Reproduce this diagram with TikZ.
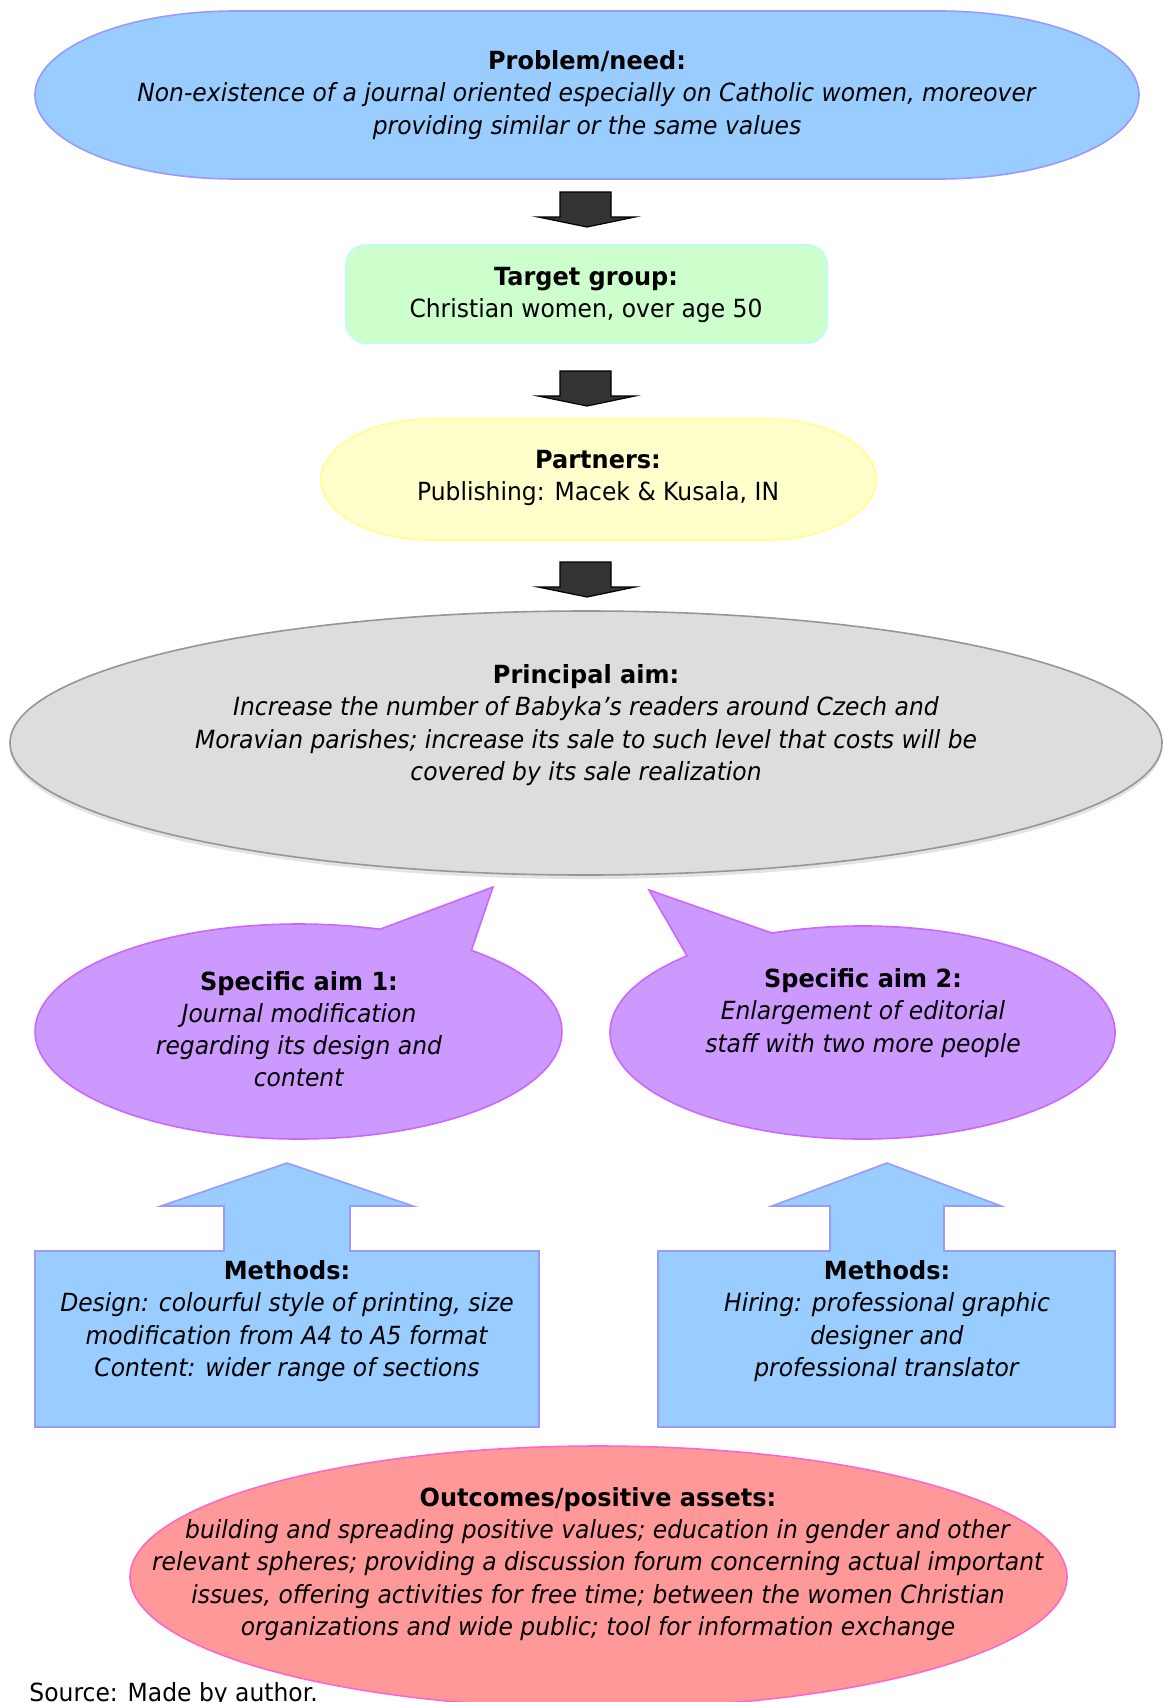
\documentclass[tikz,border=0pt]{standalone}
\usepackage{fontspec}
\setmainfont[FakeStretch=0.937,BoldFeatures={FakeStretch=0.96}]{DejaVu Sans}
\definecolor{bluefill}{HTML}{99CCFF}
\definecolor{blueline}{HTML}{9999FF}
\definecolor{greenfill}{HTML}{CCFFCC}
\definecolor{greenline}{HTML}{C4FAF4}
\definecolor{yellowfill}{HTML}{FFFFCC}
\definecolor{yellowline}{HTML}{FFFF99}
\definecolor{grayfill}{HTML}{DDDDDD}
\definecolor{grayline}{HTML}{969696}
\definecolor{grayshade}{HTML}{E4E4E4}
\definecolor{violetfill}{HTML}{CC99FF}
\definecolor{violetline}{HTML}{CC66FF}
\definecolor{redfill}{HTML}{FF9999}
\definecolor{redline}{HTML}{FF66CC}
\definecolor{arrowgray}{HTML}{333333}

\begin{document}
\begin{tikzpicture}[x=0.5pt,y=-0.5pt,line width=0.8pt,
    txt/.style={align=center,font=\fontsize{12.5}{16.1}\selectfont},
    darrow/.style={fill=arrowgray,draw=black,line width=0.6pt},
    problem/.style={fill=bluefill,draw=blueline},
    target/.style={fill=greenfill,draw=greenline,line width=1pt},
    partner/.style={fill=yellowfill,draw=yellowline,line width=1pt},
    principal/.style={fill=grayfill,draw=grayline},
    specific/.style={fill=violetfill,draw=violetline},
    methods/.style={fill=bluefill,draw=blueline},
    outcome/.style={fill=redfill,draw=redline}]
    \useasboundingbox (0,0) rectangle (1164,1702);
    \fill[white] (0,0) rectangle (1164,1702);

    \draw[problem](235,11)--(939,11)arc[start angle=-90,end angle=90,x radius=200,y radius=84]
        --(235,179)arc[start angle=90,end angle=270,x radius=200,y radius=84]--cycle;
    \node[txt](prob) at (587,95){\textbf{Problem/need:}\\
        \textit{Non-existence of a journal oriented especially on Catholic women, moreover}\\
        \textit{providing similar or the same values}};

    \foreach \t in {192,371,562}
        \draw[darrow](560,\t)--(611,\t)--(611,\t+25)--(635,\t+25)--(587,\t+35)--(538,\t+25)--(560,\t+25)--cycle;

    \draw[target,rounded corners=10](346,245)rectangle(827,343);
    \node[txt](targ) at (586,295){\textbf{Target group:}\\Christian women, over age 50};

    \draw[partner](431,419)--(766,419)arc[start angle=-90,end angle=90,x radius=110,y radius=60.5]
        --(431,540)arc[start angle=90,end angle=270,x radius=110,y radius=60.5]--cycle;
    \node[txt](part) at (598,478){\textbf{Partners:}\\Publishing: Macek \& Kusala, IN};

    \fill[grayshade](586,747)ellipse[x radius=576,y radius=132];
    \draw[principal](586,743)ellipse[x radius=576,y radius=132];
    \node[txt](princ) at (586,725){\textbf{Principal aim:}\\
        \textit{Increase the number of Babyka's readers around Czech and}\\
        \textit{Moravian parishes; increase its sale to such level that costs will be}\\
        \textit{covered by its sale realization}};

    \draw[specific](298.5,1031.5)++(-49:263.5 and 107.5)
        arc[start angle=-49,end angle=288,x radius=263.5,y radius=107.5]--(493,887)--cycle;
    \node[txt](spec1) at (299,1029){\textbf{Specific aim 1:}\\
        \textit{Journal modification}\\\textit{regarding its design and}\\\textit{content}};

    \draw[specific](862.5,1032.5)++(249:252.5 and 106.5)
        arc[start angle=249,end angle=586,x radius=252.5,y radius=106.5]--(649,890)--cycle;
    \node[txt](spec2) at (863,1013){\textbf{Specific aim 2:}\\
        \textit{Enlargement of editorial}\\\textit{staff with two more people}};

    \draw[methods](35,1251)--(224,1251)--(224,1206)--(161,1206)--(287,1163)--(413,1206)--(350,1206)
        --(350,1251)--(539,1251)--(539,1427)--(35,1427)--cycle;
    \node[txt](meth1) at (287,1321){\textbf{Methods:}\\
        \textit{Design: colourful style of printing, size}\\
        \textit{modification from A4 to A5 format}\\
        \textit{Content: wider range of sections}};

    \draw[methods](658,1251)--(830,1251)--(830,1206)--(772,1206)--(887,1163)--(1001,1206)--(944,1206)
        --(944,1251)--(1115,1251)--(1115,1427)--(658,1427)--cycle;
    \node[txt](meth2) at (887,1321){\textbf{Methods:}\\
        \textit{Hiring: professional graphic}\\\textit{designer and}\\\textit{professional translator}};

    \draw[outcome](598.5,1577)ellipse[x radius=468.5,y radius=131];
    \node[txt](outc) at (598,1564){\textbf{Outcomes/positive assets:}\\
        \textit{building and spreading positive values; education in gender and other}\\
        \textit{relevant spheres; providing a discussion forum concerning actual important}\\
        \textit{issues, offering activities for free time; between the women Christian}\\
        \textit{organizations and wide public; tool for information exchange}};

    \node[txt,anchor=base west](src) at (22,1701){Source: Made by author.};
\end{tikzpicture}
\end{document}
